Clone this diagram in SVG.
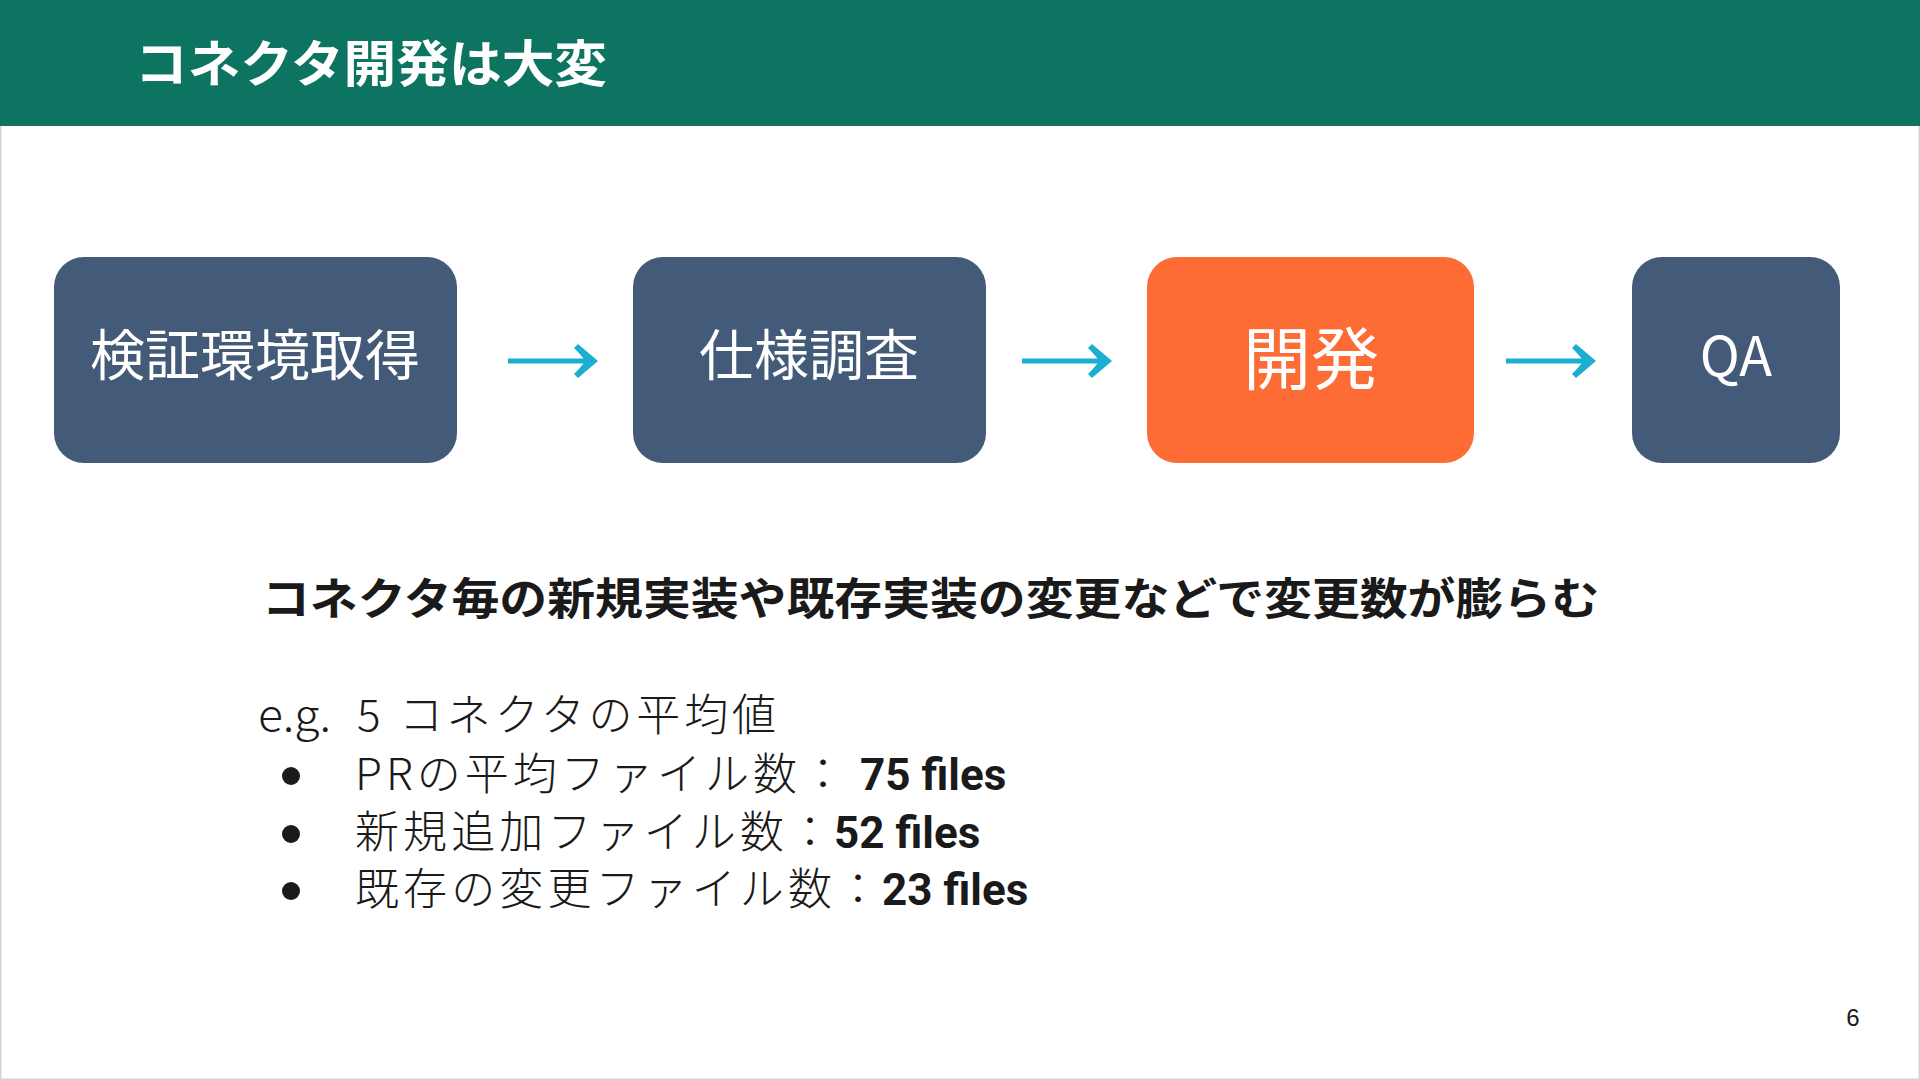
<svg xmlns="http://www.w3.org/2000/svg" width="1920" height="1080" viewBox="0 0 1920 1080">
<style>
.box{fill:#435a78}
.hot{fill:#fe6c36}
.lbl{fill:#ffffff;font-family:"Noto Sans CJK JP","Noto Sans",sans-serif;font-weight:400;text-anchor:middle}
.conn{stroke:#1aafd0;stroke-width:5;fill:none;stroke-linecap:butt}
.body{fill:#1a1a1a;font-family:"Noto Sans CJK JP","Noto Sans",sans-serif}
.lt{font-weight:300}
.bd{font-family:Roboto,"Noto Sans",sans-serif;font-weight:700}
</style>
<defs>
<marker id="ah" markerWidth="26" markerHeight="38" refX="16" refY="18" orient="auto" markerUnits="userSpaceOnUse">
<path d="M4,1 L24,18 L4,35 L0,31 Q9,22 11,18 Q9,14 0,5 Z" fill="#1aafd0"/>
</marker>
</defs>
<rect x="0" y="0" width="1920" height="1080" fill="#ffffff" stroke="#d4d4d4" stroke-width="3"/>
<g id="header">
<rect x="0" y="0" width="1920" height="126" fill="#0d7461"/>
<text x="135" y="82" fill="#ffffff" font-family="'Noto Sans CJK JP',sans-serif" font-weight="700" font-size="50" textLength="472" lengthAdjust="spacingAndGlyphs">コネクタ開発は大変</text>
</g>
<g id="connectors">
<line class="conn" x1="508" y1="361" x2="590" y2="361" marker-end="url(#ah)"/>
<line class="conn" x1="1022" y1="361" x2="1104" y2="361" marker-end="url(#ah)"/>
<line class="conn" x1="1506" y1="361" x2="1588" y2="361" marker-end="url(#ah)"/>
</g>
<g id="node-kensho">
<rect class="box" x="54" y="257" width="403" height="206" rx="30"/>
<text class="lbl" x="255" y="375" font-size="55">検証環境取得</text>
</g>
<g id="node-shiyo">
<rect class="box" x="633" y="257" width="353" height="206" rx="30"/>
<text class="lbl" x="809" y="375" font-size="55">仕様調査</text>
</g>
<g id="node-kaihatsu">
<rect class="hot" x="1147" y="257" width="327" height="206" rx="30"/>
<text class="lbl" x="1311" y="384" font-size="68">開発</text>
</g>
<g id="node-qa">
<rect class="box" x="1632" y="257" width="208" height="206" rx="30"/>
<text class="lbl" x="1736" y="376" font-size="54" font-weight="300">QA</text>
</g>
<g id="notes">
<text class="body" x="262" y="615" font-size="44" font-weight="700" textLength="1337" lengthAdjust="spacingAndGlyphs">コネクタ毎の新規実装や既存実装の変更などで変更数が膨らむ</text>
<text class="body lt" x="258" y="731" font-size="44" textLength="73" lengthAdjust="spacingAndGlyphs">e.g.</text>
<text class="body lt" x="357" y="731" font-size="44">5</text>
<text class="body lt" x="399" y="731" font-size="44" textLength="377" lengthAdjust="spacing">コネクタの平均値</text>
<circle cx="291" cy="776" r="9" fill="#1a1a1a"/>
<circle cx="291" cy="834" r="9" fill="#1a1a1a"/>
<circle cx="291" cy="891" r="9" fill="#1a1a1a"/>
<text class="body lt" x="355" y="790" font-size="44" textLength="490" lengthAdjust="spacing">PRの平均ファイル数：</text>
<text class="body bd" x="860" y="790" font-size="44">75 files</text>
<text class="body lt" x="355" y="848" font-size="44" textLength="477" lengthAdjust="spacing">新規追加ファイル数：</text>
<text class="body bd" x="834" y="848" font-size="44">52 files</text>
<text class="body lt" x="355" y="905" font-size="44" textLength="525" lengthAdjust="spacing">既存の変更ファイル数：</text>
<text class="body bd" x="882" y="905" font-size="44">23 files</text>
</g>
<text x="1853" y="1026" font-family="'Liberation Sans',Arial,sans-serif" font-size="24" fill="#1a1a1a" text-anchor="middle">6</text>
</svg>
